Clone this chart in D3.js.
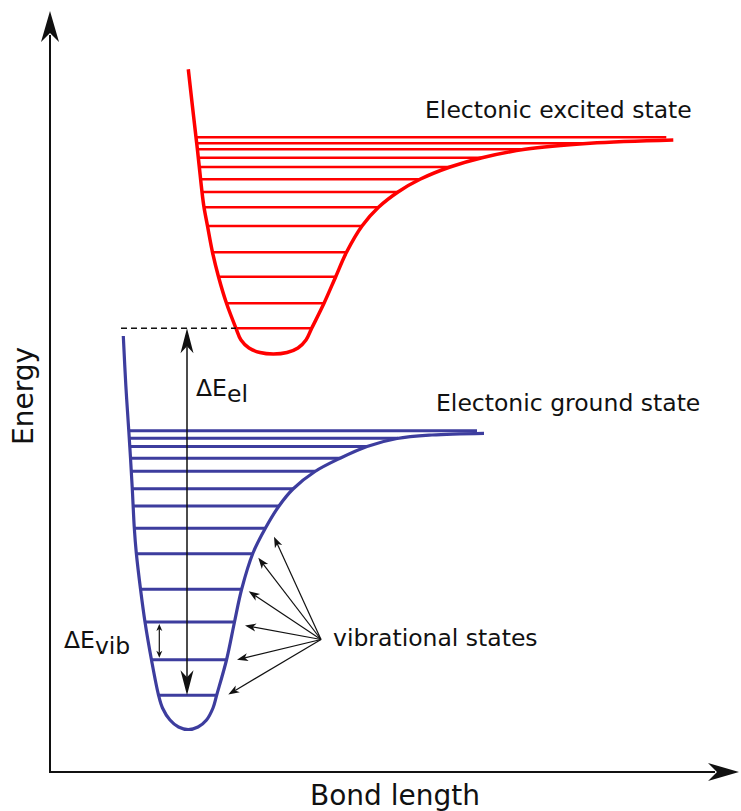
<!DOCTYPE html>
<html><head><meta charset="utf-8">
<script src="https://cdn.jsdelivr.net/npm/d3@7"></script>
<style>html,body{margin:0;padding:0;background:#fff;} svg{display:block;font-family:"DejaVu Sans",Verdana,sans-serif;}</style>
</head><body><svg id="c" width="741" height="811"></svg>
<script>
// ---------- data (bond length, energy) in arbitrary units ----------
const groundCurve = [
  [0.733,4.36],[0.758,3.87],[0.788,3.41],[0.805,3.14],[0.823,2.83],[0.843,2.44],
  [0.863,2.19],[0.905,1.83],[0.95,1.50],[1.015,1.12],[1.085,0.77],[1.125,0.64],
  [1.20,0.52],[1.285,0.45],[1.383,0.425],[1.48,0.45],[1.565,0.52],[1.63,0.64],
  [1.667,0.77],[1.765,1.12],[1.845,1.50],[1.917,1.83],[2.03,2.19],[2.155,2.44],
  [2.29,2.66],[2.43,2.83],[2.65,3.005],[2.90,3.137],[3.17,3.255],[3.47,3.335],
  [3.82,3.37],[4.34,3.387]
];
const excitedCurve = [
  [1.383,7.027],[1.423,6.67],[1.46,6.347],[1.474,6.227],[1.493,6.05],[1.52,5.80],
  [1.54,5.647],[1.575,5.46],[1.625,5.197],[1.685,4.953],[1.765,4.687],[1.86,4.437],
  [1.91,4.32],[1.99,4.24],[2.10,4.195],[2.233,4.18],[2.37,4.195],[2.48,4.24],
  [2.56,4.32],[2.617,4.437],[2.74,4.687],[2.857,4.953],[2.965,5.197],[3.12,5.46],
  [3.285,5.647],[3.48,5.80],[3.70,5.927],[4.00,6.05],[4.32,6.143],[4.75,6.227],
  [5.40,6.287],[6.233,6.32]
];
const groundLevels = [0.767,1.123,1.50,1.827,2.182,2.437,2.66,2.832,3.007,3.137,3.255,3.337,3.413];
const excitedLevels = [4.437,4.687,4.953,5.197,5.46,5.647,5.80,5.927,6.05,6.143,6.227,6.287,6.347];
const vibArrowOrigin = [2.71,1.325];
const vibArrowTips = [[2.24,2.353],[2.083,2.142],[1.987,1.807],[1.95,1.465],[1.87,1.123],[1.783,0.775]];
const deltaElBond = 1.37;
const deltaVibBond = 1.093;
const dashStartBond = 0.71;
const labels = {
  xAxis: "Bond length", yAxis: "Energy",
  excited: "Electonic excited state", ground: "Electonic ground state",
  vib: "vibrational states", dEel: ["ΔE","el"], dEvib: ["ΔE","vib"]
};

// ---------- scales ----------
const x = d3.scaleLinear().domain([0, 6.89]).range([50, 739]);
const y = d3.scaleLinear().domain([0, 7.61]).range([772, 11]);

const svg = d3.select("#c");
const BLUE = "#3d3d9e", RED = "#ff0000", INK = "#111";

function arrowHead(g, tip, from, len, hw, notch, color) {
  const dx = tip[0]-from[0], dy = tip[1]-from[1], d = Math.hypot(dx,dy);
  const ux = dx/d, uy = dy/d, px = -uy, py = ux;
  const bx = tip[0]-ux*len, by = tip[1]-uy*len;
  const nx = tip[0]-ux*(len-notch), ny = tip[1]-uy*(len-notch);
  g.append("path")
    .attr("d", `M${tip[0]},${tip[1]}L${bx+px*hw},${by+py*hw}L${nx},${ny}L${bx-px*hw},${by-py*hw}Z`)
    .attr("fill", color).attr("stroke", "none");
  return [nx, ny];
}

// ---------- axes ----------
const ax = svg.append("g");
const o = [x(0), y(0)];
const yTip = [x(0), y(7.61)], xTip = [x(6.89), y(0)];
const yEnd = arrowHead(ax, yTip, o, 31, 9, 9, INK);
const xEnd = arrowHead(ax, xTip, o, 31, 9, 9, INK);
ax.append("line").attr("x1", o[0]).attr("y1", o[1]+1).attr("x2", yEnd[0]).attr("y2", yEnd[1]+2)
  .attr("stroke", INK).attr("stroke-width", 2);
ax.append("line").attr("x1", o[0]-1).attr("y1", o[1]).attr("x2", xEnd[0]-2).attr("y2", xEnd[1])
  .attr("stroke", INK).attr("stroke-width", 2);
svg.append("text").attr("x", 395).attr("y", 805).attr("text-anchor", "middle")
  .attr("font-size", 28).attr("fill", INK).text(labels.xAxis);
svg.append("text").attr("transform", "translate(33,396) rotate(-90)").attr("text-anchor", "middle")
  .attr("font-size", 28).attr("fill", INK).text(labels.yAxis);

// ---------- potential curves ----------
const line = d3.line().x(d => x(d[0])).y(d => y(d[1])).curve(d3.curveCatmullRom.alpha(0.5));

function drawState(curve, levels, color, cw, lw) {
  const g = svg.append("g");
  const path = g.append("path").attr("d", line(curve)).attr("fill", "none")
    .attr("stroke", color).attr("stroke-width", cw).attr("stroke-linejoin", "round");
  const node = path.node(), L = node.getTotalLength(), N = 1500, pts = [];
  for (let i = 0; i <= N; i++) { const p = node.getPointAtLength(L*i/N); pts.push([p.x, p.y]); }
  const endX = x(curve[curve.length-1][0]);
  const ends = [];
  levels.forEach(e => {
    const py = y(e), xs = [];
    for (let i = 0; i < N; i++) {
      const a = pts[i], b = pts[i+1];
      if ((a[1]-py)*(b[1]-py) <= 0 && a[1] !== b[1]) xs.push(a[0] + (b[0]-a[0])*(py-a[1])/(b[1]-a[1]));
    }
    let x1 = d3.min(xs), x2 = d3.max(xs);
    if (xs.length < 2 || x2 - x1 < 2) x2 = endX - 7;
    ends.push([x1, x2]);
    g.insert("line", "path").attr("x1", x1).attr("x2", x2).attr("y1", py).attr("y2", py)
      .attr("stroke", color).attr("stroke-width", lw);
  });
  return ends;
}
const exEnds = drawState(excitedCurve, excitedLevels, RED, 3.5, 2.5);
drawState(groundCurve, groundLevels, BLUE, 3.2, 3);

// dashed line at excited v=0
svg.append("line").attr("x1", x(dashStartBond)).attr("x2", exEnds[0][0])
  .attr("y1", y(excitedLevels[0])).attr("y2", y(excitedLevels[0]))
  .attr("stroke", INK).attr("stroke-width", 1.5).attr("stroke-dasharray", "6,4");

// ΔE_el double arrow
const ann = svg.append("g");
const tTop = [x(deltaElBond), y(excitedLevels[0])], tBot = [x(deltaElBond), y(groundLevels[0])];
const n1 = arrowHead(ann, tTop, tBot, 25, 6.5, 7, INK);
const n2 = arrowHead(ann, tBot, tTop, 25, 6.5, 7, INK);
ann.append("line").attr("x1", n1[0]).attr("y1", n1[1]).attr("x2", n2[0]).attr("y2", n2[1])
  .attr("stroke", INK).attr("stroke-width", 1.5);

// ΔE_vib small double arrow
const vTop = [x(deltaVibBond), y(groundLevels[2]) + 2], vBot = [x(deltaVibBond), y(groundLevels[1]) - 2];
const m1 = arrowHead(ann, vTop, vBot, 7, 3, 2, INK);
const m2 = arrowHead(ann, vBot, vTop, 7, 3, 2, INK);
ann.append("line").attr("x1", m1[0]).attr("y1", m1[1]).attr("x2", m2[0]).attr("y2", m2[1])
  .attr("stroke", INK).attr("stroke-width", 1.2);

// vibrational states arrows
const vo = [x(vibArrowOrigin[0]), y(vibArrowOrigin[1])];
vibArrowTips.forEach(t => {
  const tp = [x(t[0]), y(t[1])];
  const nn = arrowHead(ann, tp, vo, 11, 4, 3, INK);
  ann.append("line").attr("x1", vo[0]).attr("y1", vo[1]).attr("x2", nn[0]).attr("y2", nn[1])
    .attr("stroke", INK).attr("stroke-width", 1.2);
});

// ---------- labels ----------
const fs = 23.5;
svg.append("text").attr("x", 425).attr("y", 118).attr("font-size", fs).attr("fill", INK).text(labels.excited);
svg.append("text").attr("x", 436).attr("y", 411).attr("font-size", fs).attr("fill", INK).text(labels.ground);
svg.append("text").attr("x", 333).attr("y", 646).attr("font-size", fs).attr("fill", INK).text(labels.vib);
const t1 = svg.append("text").attr("x", 196).attr("y", 396).attr("font-size", fs).attr("fill", INK);
t1.append("tspan").text(labels.dEel[0]);
t1.append("tspan").attr("dy", 6).text(labels.dEel[1]);
const t2 = svg.append("text").attr("x", 64).attr("y", 648).attr("font-size", fs).attr("fill", INK);
t2.append("tspan").text(labels.dEvib[0]);
t2.append("tspan").attr("dy", 6).text(labels.dEvib[1]);
</script></body></html>
